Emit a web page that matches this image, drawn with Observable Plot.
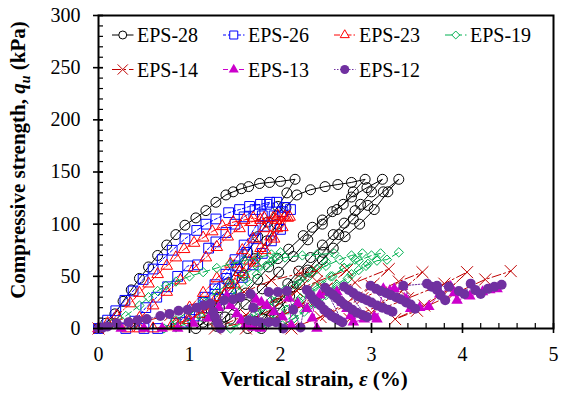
<!DOCTYPE html>
<html><head><meta charset="utf-8">
<script src="https://cdn.jsdelivr.net/npm/d3@7"></script>
<script src="https://cdn.jsdelivr.net/npm/@observablehq/plot@0.6"></script>
<style>
html,body{margin:0;padding:0;background:#fff;}
#chart{width:561px;height:396px;position:relative;}
</style></head><body><div id="chart"></div>
<script>
// ---- data (strain %, stress kPa) ----
const seriesNames = ["EPS-28","EPS-26","EPS-23","EPS-19","EPS-14","EPS-13","EPS-12"];
const xTickLabels = [0,1,2,3,4,5];
const yTickLabels = [0,50,100,150,200,250,300];

const eps28 = [
[0,0],[0.08,5],[0.18,14],[0.27,26],[0.36,37],[0.45,48],[0.55,59],[0.65,70],[0.75,80],[0.85,90],[0.95,99],[1.07,106],[1.18,113],[1.29,121],[1.40,128],[1.48,131],[1.57,134],[1.65,136],[1.77,139],[1.88,140],[2.00,141],[2.16,143],
[2.07,130],[1.97,117],[1.86,102],[1.75,88],[1.64,73],[1.53,58],[1.43,44],[1.33,30],[1.24,17],[1.15,6],[1.07,0],
[1.20,8],[1.33,20],[1.46,35],[1.59,51],[1.72,67],[1.85,84],[1.96,100],[2.06,116],[2.18,128],[2.33,133],[2.49,136],[2.63,138],[2.78,140],[2.93,143],
[2.80,131],[2.69,119],[2.57,112],[2.46,104],[2.35,97],[2.25,89],[2.09,76],[1.97,67],[1.87,59],[1.75,47],[1.62,34],[1.50,22],[1.39,11],[1.30,2],
[1.45,9],[1.62,23],[1.80,38],[1.98,54],[2.14,69],[2.30,85],[2.46,100],[2.62,114],[2.78,126],[2.95,135],[3.12,143],
[3.00,131],[2.88,119],[2.82,113],[2.70,101],[2.58,90],[2.46,80],[2.33,68],[2.20,55],[2.08,43],[1.95,30],[1.83,18],[1.72,7],[1.64,0],
[1.80,10],[1.97,24],[2.14,40],[2.30,56],[2.47,73],[2.64,90],[2.80,105],[2.96,118],[3.13,131],[3.30,143],
[3.18,131],[3.03,114],[2.87,100],[2.71,88],[2.58,77],[2.46,66],[2.33,54],[2.21,42],[2.10,31],[1.99,19],[1.88,8],[1.79,0]
];
const eps26 = [
[0,0],[0.10,8],[0.19,17],[0.29,27],[0.38,36],[0.49,47],[0.60,57],[0.70,66],[0.81,75],[0.95,86],[1.08,94],[1.18,100],[1.29,105],[1.43,111],[1.55,114],[1.66,117],[1.78,119],[1.88,121],
[1.80,108],[1.70,94],[1.60,80],[1.50,66],[1.40,52],[1.28,38],[1.15,25],[1.00,14],[0.85,5],[0.65,0],[0.50,0],[0.30,0],
[0.40,7],[0.52,20],[0.64,30],[0.76,40],[0.87,50],[0.98,60],[1.09,61],[1.21,77],[1.29,83],[1.40,92],[1.50,100],[1.60,107],[1.72,114],[1.85,119],[1.96,121],[2.02,112],[2.11,114],
[2.00,95],[1.90,84],[1.80,72],[1.70,61],[1.58,49],[1.45,38],[1.33,28],[1.20,20],[1.06,12],[0.93,6],
[1.05,18],[1.17,30],[1.28,42],[1.41,48],[1.52,60],[1.63,73],[1.73,86],[1.83,98],[1.93,108],[2.05,116]
];
const eps23 = [
[0,0],[0.10,5],[0.20,12],[0.35,24],[0.45,34],[0.55,43],[0.65,52],[0.75,60],[0.85,68],[0.94,76],[1.05,82],[1.15,87],[1.25,93],[1.36,98],[1.48,102],[1.60,104],[1.70,106],[1.78,104],[1.92,106],[2.05,107],
[1.96,96],[1.89,88],[1.78,77],[1.66,65],[1.55,54],[1.43,42],[1.30,30],[1.16,18],[1.00,8],[0.80,2],[0.60,0],[0.45,0],[0.32,0],
[0.45,10],[0.60,22],[0.75,35],[0.90,46],[1.05,58],[1.18,68],[1.30,78],[1.42,88],[1.55,96],[1.68,102],[1.82,106],[1.97,108],[2.10,107],
[2.02,97],[1.93,86],[1.83,75],[1.72,63],[1.60,52],[1.50,42],[1.38,32],[1.25,22],[1.12,14],[0.98,8],[0.85,5],
[1.00,20],[1.15,34],[1.30,48],[1.45,62],[1.58,75],[1.70,86],[1.82,96],[1.95,104],[2.08,106]
];
const eps19 = [
[0,0],[0.15,5],[0.30,12],[0.45,22],[0.55,30],[0.65,36],[0.74,41],[0.85,45],[1.00,50],[1.15,54],[1.30,58],[1.45,62],[1.60,65],[1.75,68],[1.90,71],[2.00,73],
[1.92,66],[1.84,60],[1.74,52],[1.64,45],[1.52,36],[1.40,28],[1.27,19],[1.13,11],[0.98,5],[0.85,1],[0.72,0],
[0.85,8],[1.00,17],[1.15,26],[1.30,35],[1.45,44],[1.60,52],[1.75,59],[1.90,64],[2.05,68],[2.24,70],[2.40,71],[2.59,72],
[2.50,64],[2.40,57],[2.30,49],[2.18,41],[2.06,33],[1.93,25],[1.80,17],[1.67,10],[1.55,4],[1.45,0],
[1.60,8],[1.75,17],[1.90,27],[2.05,37],[2.20,46],[2.35,54],[2.50,60],[2.65,66],[2.78,70],[2.90,72],
[2.82,66],[2.70,58],[2.57,50],[2.45,42],[2.32,34],[2.20,26],[2.08,18],[1.96,10],[1.85,4],[1.76,0],
[1.90,8],[2.06,18],[2.22,29],[2.38,40],[2.55,50],[2.70,58],[2.86,65],[3.00,70],[3.10,72],
[2.96,62],[2.86,56],[2.74,48],[2.62,40],[2.50,32],[2.38,24],[2.26,16],[2.14,9],[2.02,3],
[2.15,10],[2.30,20],[2.46,31],[2.62,42],[2.78,52],[2.94,60],[3.06,65],[3.17,66],[3.30,73]
];
const eps14 = [
[0,0],[0.41,5],[0.79,13],[1.20,23],[1.60,35],[1.90,46],[2.22,53],[2.40,55],
[2.18,36],[1.92,19],[1.62,6],[1.28,0],
[1.62,13],[2.00,30],[2.40,45],[2.73,56],
[2.50,38],[2.22,22],[1.92,8],[1.62,0],
[2.00,12],[2.40,28],[2.82,44],[3.19,57],
[3.00,41],[2.74,25],[2.44,11],[2.12,0],
[2.50,13],[2.90,29],[3.30,45],[3.56,54],
[3.36,38],[3.08,22],[2.76,9],
[3.00,15],[3.40,29],[3.80,43],[4.05,54],
[3.86,38],[3.58,22],[3.26,9],
[3.50,17],[3.90,33],[4.25,47],[4.53,55]
];
const eps13 = [
[0,0],[0.25,0],[0.50,0],[0.70,0],[0.87,0],[1.04,5],[1.21,10],[1.32,20],[1.41,31],
[1.45,22],[1.52,14],[1.57,8],[1.62,4],[1.70,1],[1.78,0],
[1.73,28],[1.79,25],[1.85,22],[1.93,16],[2.02,11],[2.12,3],
[2.09,29],[2.19,24],[2.29,19],[2.35,10],[2.40,0],
[2.33,32],[2.43,32],[2.51,35],[2.62,35],
[2.68,25],[2.73,19],[2.77,12],[2.80,6],
[2.92,9],[3.03,11],[3.06,9],
[3.13,38],[3.20,36],[3.25,38],[3.34,40],
[3.38,28],[3.43,19],[3.53,20],[3.63,21],
[3.75,33],[3.87,40],[3.91,34],[3.94,27],
[4.08,31],[4.22,35],[4.30,37],[4.38,38]
];
const eps12 = [
[0,0],[0.05,1],[0.10,2],[0.20,5],[0.33,6],[0.43,8],[0.53,9],[0.68,12],[0.78,14],[0.88,17],[0.98,18],[1.08,20],[1.16,22],[1.23,24],
[1.26,16],[1.28,11],[1.31,5],[1.34,0],
[1.38,27],[1.48,28],[1.56,30],[1.67,33],
[1.70,20],[1.65,8],[1.72,7],[1.78,6],[1.87,6],[1.95,6],[2.03,0],
[1.87,35],[1.97,35],[2.07,36],[2.14,18],[2.22,1],
[2.29,37],[2.33,32],[2.36,28],[2.40,25],[2.44,22],[2.48,18],[2.52,15],[2.56,12],[2.60,10],[2.64,8],[2.68,6],
[2.49,39],[2.54,35],[2.58,32],[2.62,29],[2.66,26],[2.70,23],[2.74,21],[2.79,18],[2.84,15],[2.90,13],[2.95,11],
[2.70,40],[2.75,37],[2.80,34],[2.85,31],[2.90,29],[2.95,27],[3.00,25],[3.06,22],[3.12,20],[3.18,18],[3.23,16],
[2.99,41],[3.05,38],[3.10,36],[3.16,34],[3.21,32],[3.27,30],[3.32,28],[3.38,25],[3.43,23],[3.48,19],
[3.35,41],[3.61,43],[3.66,40],[3.72,37],[3.76,32],[3.81,27],
[3.72,41],[3.85,40],[3.96,36],[4.02,33],
[4.09,43],[4.14,37],[4.20,33],[4.28,38],[4.35,40],[4.43,42]
];
const seriesData = [eps28, eps26, eps23, eps19, eps14, eps13, eps12];

// ---- styles ----
const seriesColors = ["#000000","#0000FF","#FF0000","#00B050","#C00000","#CC00CC","#7030A0"];
const seriesSymbols = ["circle","square","triangle","diamond2","times","triangle","circle"];
const seriesFilled = [false,false,false,false,false,true,true];
const seriesR = [5,5.5,4.3,4.2,5.5,4.3,5];
const seriesDash = [null,"3,2","6,2,1.5,2","7,3","9,3,2,3","5,3","1.5,1.5"];

const serif = "Liberation Serif";
const marks = [];
seriesData.forEach((data, i) => {
  marks.push(Plot.line(data, {x: d => d[0], y: d => d[1], stroke: seriesColors[i], strokeWidth: 1, strokeDasharray: seriesDash[i]}));
  marks.push(Plot.dot(data, {x: d => d[0], y: d => d[1], symbol: () => seriesSymbols[i], r: seriesR[i],
    fill: seriesFilled[i] ? seriesColors[i] : "none", stroke: seriesFilled[i] ? "none" : seriesColors[i], strokeWidth: 1}));
});
marks.push(Plot.frame({strokeWidth: 2}));
marks.push(Plot.axisX({ticks: xTickLabels, tickSize: 10, dy: -5, tickFormat: () => "", label: null, strokeWidth: 1.6}));
marks.push(Plot.axisX({ticks: d3.range(0, 5.001, 0.2), tickSize: 5, dy: -5, tickFormat: () => "", label: null, strokeWidth: 1.2}));
marks.push(Plot.axisX({ticks: xTickLabels, tickSize: 0, tickPadding: 18, tickFormat: d3.format("d"), label: null, fontSize: 20, fontFamily: serif}));
marks.push(Plot.axisY({ticks: yTickLabels, tickSize: 10, dx: 5, tickFormat: () => "", label: null, strokeWidth: 1.6}));
marks.push(Plot.axisY({ticks: d3.range(0, 301, 10), tickSize: 5, dx: 5, tickFormat: () => "", label: null, strokeWidth: 1.2}));
marks.push(Plot.axisY({ticks: yTickLabels, tickSize: 0, tickPadding: 18, tickFormat: d3.format("d"), label: null, fontSize: 20, fontFamily: serif}));

const chart = Plot.plot({
  width: 561, height: 396,
  marginLeft: 98, marginRight: 8, marginTop: 15, marginBottom: 68,
  x: {domain: [0, 5]},
  y: {domain: [0, 300]},
  style: {fontFamily: serif, fontSize: "20px", color: "black", background: "white"},
  marks
});
document.getElementById("chart").appendChild(chart);

// ---- axis titles with mixed styles ----
const svg = d3.select(chart);
const xt = svg.append("text").attr("x", 314).attr("y", 386).attr("text-anchor", "middle")
  .attr("font-family", serif).attr("font-size", 21).attr("font-weight", "bold").attr("fill", "black");
xt.append("tspan").text("Vertical strain, ");
xt.append("tspan").attr("font-style", "italic").text("ε");
xt.append("tspan").text(" (%)");

const yt = svg.append("text").attr("transform", "translate(25,160) rotate(-90)").attr("text-anchor", "middle")
  .attr("font-family", serif).attr("font-size", 21).attr("font-weight", "bold").attr("fill", "black");
yt.append("tspan").text("Compressive strength, ");
yt.append("tspan").attr("font-style", "italic").text("q");
yt.append("tspan").attr("font-style", "italic").attr("font-size", 14).attr("dy", 5).text("u");
yt.append("tspan").attr("dy", -5).text(" (kPa)");

// ---- legend ----
const legendSizes = [50, 64, 36, 40, 70, 44, 64];
const symMap = {circle: d3.symbolCircle, square: d3.symbolSquare, triangle: d3.symbolTriangle, diamond2: d3.symbolDiamond2, times: d3.symbolTimes};
const lg = svg.append("g");
seriesNames.forEach((name, i) => {
  const col = i % 4, row = Math.floor(i / 4);
  const x0 = 112 + col * 111, yc = 35 + row * 34.5;
  const g = lg.append("g").attr("transform", `translate(${x0},${yc})`);
  g.append("line").attr("x1", 0).attr("x2", 21.5).attr("y1", 0).attr("y2", 0)
    .attr("stroke", seriesColors[i]).attr("stroke-width", 1).attr("stroke-dasharray", seriesDash[i]);
  g.append("path").attr("transform", "translate(10.75,0)")
    .attr("d", d3.symbol(symMap[seriesSymbols[i]], legendSizes[i])())
    .attr("fill", seriesFilled[i] ? seriesColors[i] : "white")
    .attr("stroke", seriesFilled[i] ? "none" : seriesColors[i]).attr("stroke-width", 1);
  g.append("text").attr("x", 25).attr("y", 7).attr("text-anchor", "start").text(name)
    .attr("font-family", serif).attr("font-size", 20).attr("fill", "black");
});
</script></body></html>
